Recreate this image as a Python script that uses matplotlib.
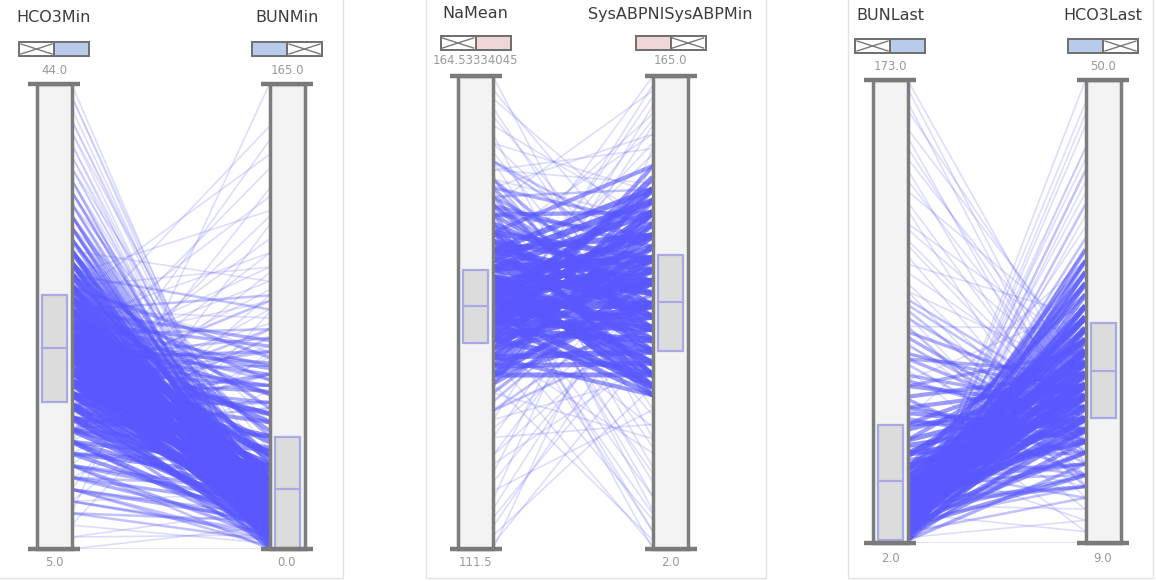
import matplotlib
matplotlib.use("Agg")
import matplotlib.pyplot as plt
from matplotlib.collections import LineCollection
from matplotlib.colors import to_rgba
from matplotlib.patches import Rectangle

W, H = 1156, 581

# --- panel 1: HCO3Min vs BUNMin (one entry per distinct pair, with patient count) ---
hco3_min = [44, 43, 42, 41, 40, 40, 39, 38, 38, 37, 37, 36, 36, 35, 35, 34, 34, 34, 33, 33, 33, 32, 32, 32,
            30, 28, 27, 26, 25, 24, 23, 23, 22, 22, 21, 21, 20, 20, 19, 19, 18, 18, 17, 17,
            16, 16, 15, 15, 14, 14, 13, 12, 11, 10, 9, 8, 7,
            31, 31, 30, 30, 30, 29, 29, 29, 28, 28, 28, 27, 27, 27, 26, 26, 26, 25, 25, 25,
            25, 24, 24, 24, 23, 23, 23, 23, 22, 22, 22, 22, 21, 21, 21, 20, 20, 20, 20, 19,
            19, 19, 18, 18, 18, 17, 17, 17, 16, 16, 16, 15, 15, 14, 14, 13, 13, 12, 12, 11,
            11, 10, 10, 9, 9, 8, 7, 6, 6, 5, 5, 24, 21, 19, 22, 17,
            26, 24, 23, 22, 21, 20, 19, 18, 17, 16, 15, 14, 13, 12, 11, 10, 9, 8,
            28, 27, 25, 23, 21, 19, 17, 15,
            29, 26, 24, 22, 20, 18, 16, 14, 12, 10,
            43, 41, 39, 37, 36, 35, 33, 32, 31, 30,
            27, 25, 23, 21, 19, 17, 15]
bun_min = [2, 8, 5, 12, 3, 20, 9, 15, 4, 11, 28, 6, 18, 10, 24, 7, 14, 35, 12, 20, 4, 9, 16, 45,
           95, 120, 70, 140, 82, 105, 60, 150, 88, 125, 75, 100, 65, 135, 110, 80, 58, 92, 118, 72,
           85, 145, 62, 98, 78, 128, 68, 90, 56, 115, 70, 165, 84,
           10, 22, 6, 14, 30, 9, 18, 40, 12, 24, 50, 8, 16, 33, 11, 20, 42, 6, 14, 26,
           55, 10, 19, 32, 4, 13, 23, 45, 8, 16, 28, 38, 11, 20, 34, 6, 15, 25, 48, 9,
           18, 30, 12, 22, 40, 5, 15, 28, 9, 20, 36, 12, 25, 7, 18, 10, 30, 4, 16, 8,
           22, 12, 3, 6, 20, 10, 2, 5, 14, 0, 8, 65, 58, 70, 62, 52,
           60, 72, 55, 66, 48, 58, 52, 45, 62, 40, 35, 30, 25, 20, 15, 10, 5, 3,
           85, 100, 90, 78, 95, 88, 105, 75,
           0, 2, 1, 3, 0, 2, 1, 4, 0, 1,
           3, 6, 1, 8, 2, 12, 0, 5, 18, 2,
           68, 74, 64, 70, 56, 78, 50]
count_1 = [1, 1, 1, 1, 1, 1, 1, 1, 1, 1, 1, 2, 1, 2, 1, 2, 2, 1, 3, 2, 2, 3, 3, 1,
           1, 1, 1, 1, 1, 1, 2, 1, 1, 1, 2, 1, 2, 1, 1, 1, 2, 1, 1, 1,
           1, 1, 2, 1, 1, 1, 1, 1, 1, 1, 1, 1, 1,
           4, 3, 5, 5, 3, 6, 5, 3, 7, 6, 3, 7, 8, 5, 8, 8, 4, 8, 9, 7,
           3, 9, 9, 6, 8, 10, 9, 5, 10, 10, 8, 5, 10, 10, 7, 9, 10, 9, 5, 9,
           9, 7, 8, 8, 5, 7, 8, 6, 7, 6, 4, 6, 5, 5, 4, 4, 3, 3, 3, 3,
           2, 2, 2, 2, 1, 2, 1, 1, 1, 1, 1, 3, 3, 2, 3, 3,
           3, 3, 4, 3, 4, 3, 3, 4, 3, 4, 4, 4, 4, 3, 3, 3, 2, 2,
           2, 1, 2, 2, 1, 2, 1, 2,
           3, 3, 4, 4, 4, 3, 3, 3, 2, 2,
           1, 1, 1, 1, 1, 2, 1, 2, 2, 2,
           3, 3, 3, 3, 3, 2, 2]

# --- panel 2: NaMean vs SysABPNISysABPMin ---
na_mean = [131, 131, 131, 131, 133, 133, 133, 133, 135, 135, 135, 135, 137, 137, 137, 137,
           139, 139, 139, 139, 141, 141, 141, 141, 143, 143, 143, 143, 145, 145, 145, 145,
           147, 147, 147, 147, 149, 149, 149, 149, 151, 151, 151,
           129, 153, 127, 155, 132, 150, 134, 146,
           164.5, 162, 160, 158, 157, 156, 155, 154, 153, 153, 152,
           128, 127, 126, 125, 124, 122, 121, 119, 117, 115, 113, 111.5,
           140, 136, 144, 132, 146, 138, 142, 136, 130, 144, 134, 148, 139, 150, 129, 141,
           130, 132, 134, 136, 138, 140, 142, 144, 146, 148, 150, 152,
           130, 132, 134, 136, 138, 140, 142, 144, 146, 148, 150, 152,
           136, 138, 140, 142, 144, 138, 140, 142,
           163, 161, 159, 157, 155, 154, 152, 150, 148,
           126, 124, 122, 120, 118, 116, 114, 112,
           135, 137, 143, 145, 133, 147, 139, 141, 131, 149]
sysabp_min = [62, 94, 118, 78, 70, 102, 126, 55, 86, 110, 62, 134, 78, 118, 94, 55,
              102, 70, 126, 86, 62, 110, 94, 78, 118, 86, 55, 102, 70, 126, 94, 110,
              78, 134, 62, 102, 86, 118, 55, 110, 94, 70, 126,
              98, 82, 88, 106, 86, 78, 118, 62,
              60, 110, 85, 40, 125, 72, 98, 140, 65, 115, 30,
              100, 75, 130, 88, 45, 108, 68, 92, 140, 80, 58, 120,
              165, 158, 152, 148, 145, 142, 20, 12, 5, 2, 35, 25, 44, 15, 40, 8,
              90, 66, 106, 74, 114, 98, 58, 122, 82, 90, 106, 74,
              122, 114, 82, 130, 58, 66, 74, 90, 98, 58, 86, 114,
              98, 82, 106, 66, 82, 94, 122, 90,
              95, 70, 115, 88, 50, 128, 145, 160, 20,
              62, 118, 84, 135, 50, 102, 90, 72,
              162, 150, 8, 28, 3, 48, 138, 14, 155, 37]
count_2 = [5, 6, 5, 4, 6, 7, 5, 4, 8, 7, 6, 4, 8, 8, 9, 5,
           9, 8, 7, 9, 7, 8, 9, 8, 7, 8, 5, 8, 6, 6, 7, 6,
           5, 4, 5, 6, 4, 4, 3, 3, 3, 3, 2,
           3, 3, 2, 2, 5, 4, 4, 4,
           1, 1, 1, 1, 1, 1, 2, 1, 2, 1, 1,
           2, 2, 1, 1, 1, 1, 1, 1, 1, 1, 1, 1,
           1, 1, 1, 1, 1, 1, 1, 1, 1, 1, 1, 1, 1, 1, 1, 1,
           4, 5, 6, 7, 7, 8, 7, 7, 6, 5, 4, 3,
           4, 5, 5, 6, 7, 7, 7, 6, 5, 4, 3, 3,
           6, 7, 7, 6, 6, 6, 6, 5,
           1, 1, 1, 1, 1, 1, 1, 1, 1,
           1, 1, 1, 1, 1, 1, 1, 1,
           1, 1, 1, 1, 1, 1, 1, 1, 1, 1]

# --- panel 3: BUNLast vs HCO3Last ---
bun_last = [3, 3, 3, 5, 5, 5, 7, 7, 7, 9, 9, 9, 12, 12, 12, 15, 15, 15, 18, 18,
            18, 22, 22, 22, 26, 26, 26, 30, 30, 30, 35, 35, 40, 40, 46, 46, 52, 52, 60, 60,
            70, 70, 80, 90,
            173, 165, 155, 148, 140, 132, 125, 118, 112, 105, 98, 95, 86, 82, 76, 72, 66, 62, 56, 48,
            2, 3, 4, 6, 8, 10, 5, 14, 11, 20, 7, 24,
            2, 4, 6, 10, 16, 25, 33, 20, 38, 13,
            38, 44, 50, 56, 64, 72, 78, 85, 92,
            4, 6, 8, 11, 14, 17, 20, 24, 28,
            3, 5, 8, 12, 16, 21, 27, 33,
            10, 13, 16, 19, 23, 28, 34,
            170, 162, 152, 144, 136, 128, 120, 114, 108, 102,
            2, 3, 5, 7, 9,
            48, 55, 62, 68, 75, 82, 88, 95,
            12, 18, 24, 30, 36]
hco3_last = [24, 30, 20, 22, 28, 33, 25, 19, 31, 23, 27, 17, 21, 26, 30, 24, 19, 28, 22, 26,
             32, 20, 25, 29, 23, 18, 27, 21, 25, 31, 19, 24, 22, 27, 20, 25, 18, 23, 21, 26,
             19, 24, 22, 20,
             22, 18, 25, 20, 16, 27, 14, 23, 19, 29, 17, 24, 13, 28, 15, 21, 12, 30, 10, 34,
             50, 46, 42, 39, 44, 36, 48, 35, 40, 37, 34, 33,
             9, 11, 13, 14, 12, 15, 11, 16, 14, 10,
             20, 23, 19, 24, 21, 22, 18, 20, 21,
             34, 32, 35, 29, 33, 30, 34, 28, 32,
             16, 18, 15, 17, 14, 18, 16, 17,
             20, 23, 26, 29, 22, 24, 27,
             19, 24, 17, 23, 21, 18, 26, 20, 16, 22,
             47, 44, 41, 38, 43,
             17, 15, 19, 16, 18, 14, 17, 15,
             15, 14, 16, 13, 15]
count_3 = [5, 4, 3, 6, 6, 4, 7, 5, 5, 8, 8, 4, 8, 9, 6, 9, 7, 7, 9, 8,
           5, 8, 9, 6, 8, 6, 6, 7, 6, 4, 6, 6, 5, 4, 5, 4, 4, 4, 4, 3,
           3, 3, 3, 2,
           1, 1, 1, 1, 1, 1, 1, 1, 1, 1, 1, 1, 1, 1, 1, 1, 1, 1, 1, 1,
           1, 1, 2, 2, 1, 2, 1, 2, 1, 1, 2, 2,
           1, 1, 2, 2, 1, 2, 1, 2, 1, 1,
           5, 5, 4, 4, 3, 3, 3, 2, 2,
           4, 5, 4, 6, 5, 5, 4, 4, 3,
           3, 4, 4, 4, 3, 4, 3, 3,
           6, 7, 7, 6, 7, 6, 5,
           1, 1, 1, 1, 1, 1, 1, 1, 1, 1,
           1, 1, 1, 1, 1,
           3, 3, 3, 2, 2, 2, 2, 1,
           3, 3, 3, 2, 2]

# axis ranges (min, max)
hco3_min_range = (5.0, 44.0)
bun_min_range = (0.0, 165.0)
na_mean_range = (111.5, 164.53334045)
sysabp_min_range = (2.0, 165.0)
bun_last_range = (2.0, 173.0)
hco3_last_range = (9.0, 50.0)

# box stats (q1, median, q3)
hco3_min_box = (17.3, 21.9, 26.3)
bun_min_box = (0.4, 21.3, 39.7)
na_mean_box = (134.6, 138.7, 142.8)
sysabp_min_box = (70.2, 87.1, 103.3)
bun_last_box = (3.1, 24.9, 45.6)
hco3_last_box = (20.1, 24.2, 28.5)

titles = [("HCO3Min", "BUNMin"), ("NaMean", "SysABPNISysABPMin"), ("BUNLast", "HCO3Last")]
legend_colors = ["#b9cbea", "#efd7d7", "#b9cbea"]

panels = [
    (hco3_min, bun_min, count_1, hco3_min_range, bun_min_range, hco3_min_box, bun_min_box),
    (na_mean, sysabp_min, count_2, na_mean_range, sysabp_min_range, na_mean_box, sysabp_min_box),
    (bun_last, hco3_last, count_3, bun_last_range, hco3_last_range, bun_last_box, hco3_last_box),
]

# pixel layout: bar centres, cap rows, text rows, panel frame
layout = [
    dict(xl=54, xr=287, yt=84, yb=549, ty=17, ly=49, maxy=70, miny=563, fx0=-2, fx1=343),
    dict(xl=475.5, xr=670.5, yt=76, yb=549, ty=14, ly=43, maxy=60, miny=563, fx0=426, fx1=766),
    dict(xl=890, xr=1103, yt=80, yb=543, ty=15, ly=46, maxy=66, miny=558, fx0=848, fx1=1153),
]

BAR_W = 35
CAP_W = 52
LINE_COLOR = "#5858fe"

fig = plt.figure(figsize=(W / 100, H / 100), dpi=100)
fig.patch.set_facecolor("white")

# overlay in pixel units for frames, legends and labels
deco = fig.add_axes([0, 0, 1, 1])
deco.set_xlim(0, W)
deco.set_ylim(H, 0)
deco.axis("off")


def norm(v, rng):
    return (v - rng[0]) / (rng[1] - rng[0])


def legend_chip(cx, cy, color, cross_left):
    w, h = 70, 14
    x0 = cx - w / 2
    y0 = cy - h / 2
    half = w / 2
    xc = x0 if cross_left else x0 + half
    xf = x0 + half if cross_left else x0
    deco.add_patch(Rectangle((xf, y0), half, h, facecolor=color, edgecolor="#6e6e6e", lw=1.4, zorder=3))
    deco.add_patch(Rectangle((xc, y0), half, h, facecolor="white", edgecolor="#6e6e6e", lw=1.4, zorder=3))
    deco.plot([xc + 2, xc + half - 2], [y0 + 2, y0 + h - 2], color="#7a7a7a", lw=1, zorder=4)
    deco.plot([xc + 2, xc + half - 2], [y0 + h - 2, y0 + 2], color="#7a7a7a", lw=1, zorder=4)


for i, (left, right, counts, lrng, rrng, lbox, rbox) in enumerate(panels):
    L = layout[i]
    # panel frame
    deco.add_patch(Rectangle((L["fx0"], -2), L["fx1"] - L["fx0"], 580, facecolor="none",
                             edgecolor="#e3e3e3", lw=1, zorder=0))

    ax = fig.add_axes([L["xl"] / W, 1 - L["yb"] / H, (L["xr"] - L["xl"]) / W, (L["yb"] - L["yt"]) / H])
    ax.set_xlim(0, 1)
    ax.set_ylim(0, 1)
    ax.axis("off")
    ax.patch.set_alpha(0)

    span = L["xr"] - L["xl"]
    hw = BAR_W / 2 / span
    cw = CAP_W / 2 / span
    inset = 5 / span

    # heavier pairs drawn last, wider and more opaque
    order = sorted(range(len(left)), key=lambda k: counts[k])
    segs = [[(hw, norm(left[k], lrng)), (1 - hw, norm(right[k], rrng))] for k in order]
    cols = [to_rgba(LINE_COLOR, 1 - 0.8 ** counts[k]) for k in order]
    widths = [0.6 + 0.6 * counts[k] for k in order]
    ax.add_collection(LineCollection(segs, colors=cols, linewidths=widths, zorder=1))

    for xc, rng, box in [(0, lrng, lbox), (1, rrng, rbox)]:
        ax.add_patch(Rectangle((xc - hw, 0), 2 * hw, 1, facecolor="#f3f3f3", edgecolor="#7d7d7d",
                               lw=2.5, clip_on=False, zorder=2))
        q1, med, q3 = [norm(v, rng) for v in box]
        ax.add_patch(Rectangle((xc - hw + inset, q1), 2 * hw - 2 * inset, q3 - q1,
                               facecolor="#dcdcdc", edgecolor="#a9a9e6", lw=1.6, clip_on=False, zorder=3))
        ax.plot([xc - hw + inset, xc + hw - inset], [med, med], color="#a9a9e6", lw=1.6,
                clip_on=False, zorder=4)
        for yy in (0, 1):
            ax.plot([xc - cw, xc + cw], [yy, yy], color="#7a7a7a", lw=3.2, solid_capstyle="butt",
                    clip_on=False, zorder=5)

    # titles, chips, range labels
    for j, (cx, rng) in enumerate([(L["xl"], lrng), (L["xr"], rrng)]):
        deco.text(cx, L["ty"], titles[i][j], ha="center", va="center", fontsize=11.5,
                  color="#3c3c3c", family="DejaVu Sans")
        legend_chip(cx, L["ly"], legend_colors[i], cross_left=(j == 0))
        deco.text(cx, L["maxy"], f"{rng[1]}", ha="center", va="center", fontsize=8.5, color="#9a9a9a")
        deco.text(cx, L["miny"], f"{rng[0]}", ha="center", va="center", fontsize=8.5, color="#9a9a9a")

fig.savefig("out.png", dpi=100, facecolor="white")
